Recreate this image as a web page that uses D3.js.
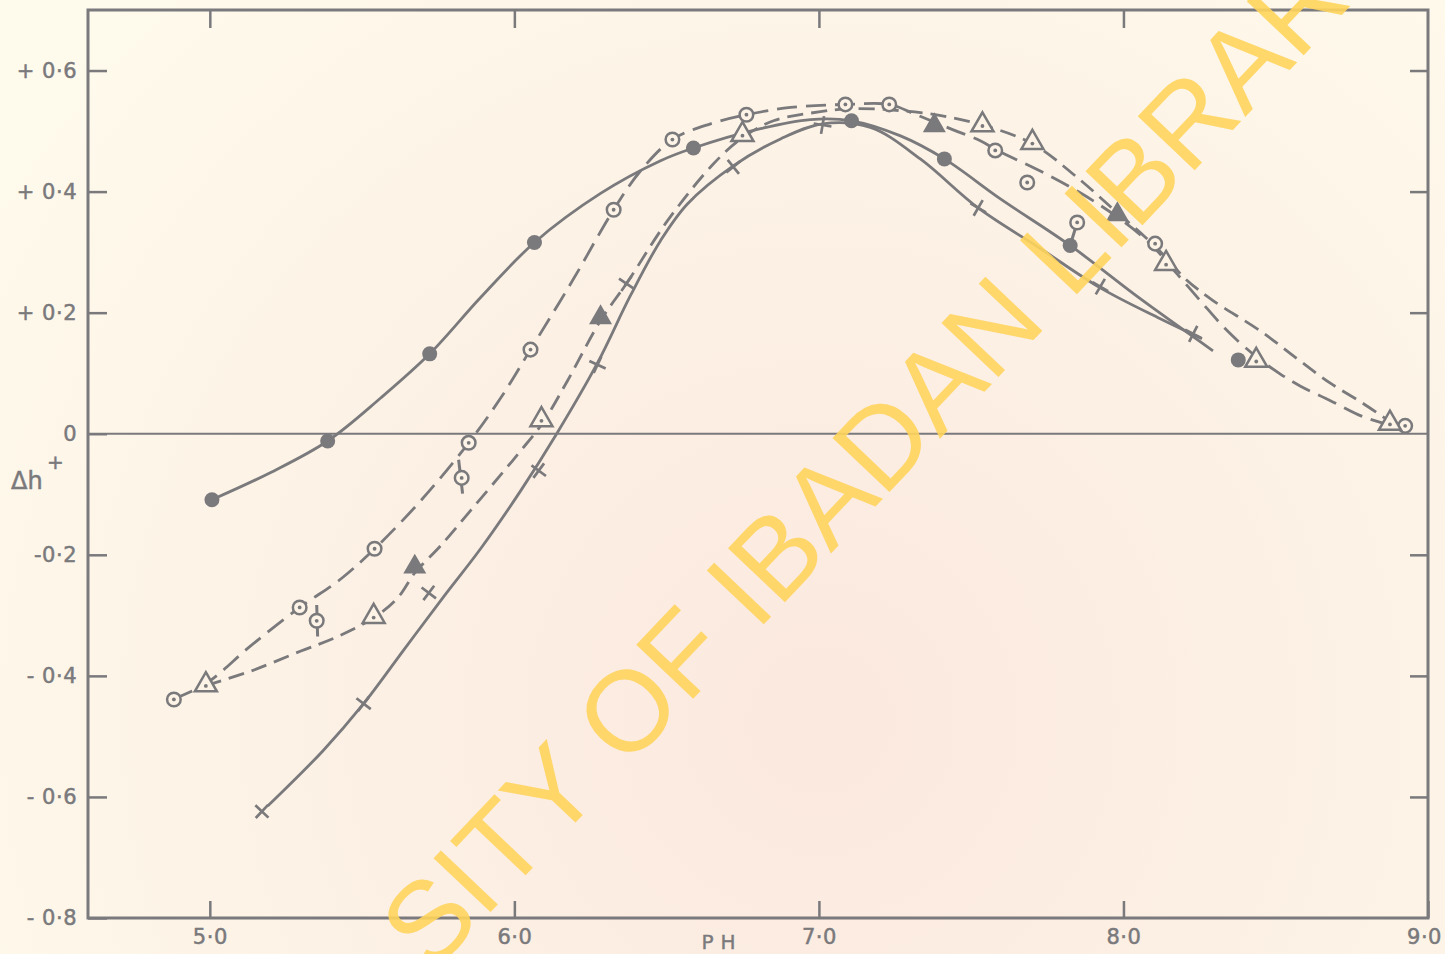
<!DOCTYPE html>
<html>
<head>
<meta charset="utf-8">
<script src="https://cdn.jsdelivr.net/npm/d3@7/dist/d3.min.js"></script>
<style>
body { margin: 0; background: #fdf6ea; }
</style>
</head>
<body>
<script>
// axis ticks and labels
var xTicks = [5, 6, 7, 8, 9];
var xTickLabels = ["5·0", "6·0", "7·0", "8·0", "9·0"];
var yTicks = [0.6, 0.4, 0.2, 0, -0.2, -0.4, -0.6, -0.8];
var yTickLabels = ["+ 0·6", "+ 0·4", "+ 0·2", "0", "-0·2", "- 0·4", "- 0·6", "- 0·8"];

// curves (pH, delta h+)
var curveDots = [[5.007,-0.109],[5.200,-0.064],[5.387,-0.012],[5.561,0.059],[5.722,0.132],[5.889,0.225],
    [6.066,0.316],[6.283,0.397],[6.480,0.451],[6.588,0.472],[6.808,0.504],[6.972,0.519],[7.107,0.517],
    [7.268,0.492],[7.412,0.454],[7.596,0.388],[7.825,0.311],[8.055,0.223],[8.294,0.137]];

var curveCrosses = [[5.190,-0.615],[5.371,-0.524],[5.505,-0.446],[5.637,-0.357],[5.768,-0.269],[5.889,-0.190],
    [6.021,-0.094],[6.139,0.000],[6.273,0.117],[6.381,0.228],[6.480,0.319],[6.569,0.380],[6.720,0.443],
    [6.874,0.487],[7.012,0.512],[7.169,0.506],[7.333,0.454],[7.523,0.373],[7.727,0.306],[7.924,0.241],
    [8.121,0.190],[8.258,0.157]];

var curveRings = [[4.882,-0.438],[4.987,-0.413],[5.135,-0.350],[5.295,-0.287],[5.430,-0.240],[5.541,-0.190],
    [5.692,-0.111],[5.850,-0.015],[5.955,0.059],[6.053,0.139],[6.191,0.253],[6.326,0.370],[6.414,0.434],
    [6.519,0.486],[6.644,0.512],[6.762,0.527],[6.907,0.539],[7.087,0.544],[7.231,0.544],[7.310,0.529],
    [7.441,0.502],[7.530,0.484],[7.586,0.468],[7.727,0.434],[7.858,0.398],[7.980,0.358],[8.088,0.314],
    [8.176,0.264],[8.252,0.220],[8.341,0.170],[8.439,0.126],[8.514,0.099],[8.580,0.079],[8.678,0.055],
    [8.787,0.028],[8.892,0.012]];

var curveTriangles = [[4.987,-0.416],[5.135,-0.392],[5.299,-0.359],[5.420,-0.335],[5.538,-0.304],[5.617,-0.271],
    [5.673,-0.230],[5.758,-0.185],[5.856,-0.127],[5.955,-0.068],[6.021,-0.028],[6.093,0.018],[6.175,0.088],
    [6.283,0.187],[6.372,0.251],[6.503,0.352],[6.654,0.446],[6.749,0.489],[6.851,0.517],[7.005,0.532],
    [7.103,0.537],[7.235,0.535],[7.382,0.527],[7.537,0.510],[7.701,0.479],[7.842,0.426],[7.980,0.365],
    [8.071,0.325],[8.144,0.289],[8.203,0.256],[8.294,0.220],[8.449,0.170],[8.570,0.124],[8.678,0.084],
    [8.787,0.050],[8.875,0.020]];

// plotted points
var dotPoints = [[5.007,-0.109],[5.387,-0.012],[5.722,0.132],[6.066,0.316],[6.588,0.472],[7.107,0.517],
    [7.412,0.454],[7.825,0.311],[8.377,0.122]];
var crossPoints = [[5.171,-0.624],[5.505,-0.446],[5.719,-0.263],[6.080,-0.061],[6.273,0.114],[6.368,0.248],
    [6.719,0.441],[7.012,0.510],[7.523,0.373],[7.924,0.243],[8.229,0.165]];
var ringPoints = [[4.882,-0.439],[5.295,-0.287],[5.351,-0.309],[5.541,-0.190],[5.827,-0.073],[5.850,-0.015],
    [6.053,0.139],[6.326,0.370],[6.519,0.486],[6.762,0.527],[7.087,0.544],[7.231,0.544],[7.579,0.468],
    [7.684,0.415],[7.848,0.349],[8.104,0.314],[8.925,0.013]];
var openTrianglePoints = [[4.987,-0.415],[5.538,-0.302],[6.089,0.023],[6.749,0.494],[7.537,0.510],
    [7.701,0.481],[8.140,0.281],[8.436,0.121],[8.875,0.017]];
var filledTrianglePoints = [[5.673,-0.220],[6.283,0.192],[7.379,0.509],[7.980,0.362]];
// short bars through some points [x1, y1, x2, y2]
var bars = [[5.351,-0.283,5.354,-0.335],[5.817,-0.043,5.830,-0.099],[7.848,0.349,7.825,0.311]];

var W = 1445, H = 954;
var ink = "#7a797c";
var paper = "#fdf3e6";
var font = "DejaVu Sans, Liberation Sans, sans-serif";

var svg = d3.select("body").append("svg")
    .attr("width", W)
    .attr("height", H);

var grad = svg.append("defs").append("radialGradient")
    .attr("id", "paper")
    .attr("gradientUnits", "userSpaceOnUse")
    .attr("cx", 820).attr("cy", 720).attr("r", 1000);
grad.append("stop").attr("offset", "0%").attr("stop-color", "#fbe8de");
grad.append("stop").attr("offset", "100%").attr("stop-color", "#fefaec");

svg.append("rect").attr("width", W).attr("height", H).attr("fill", "url(#paper)");

var x = d3.scaleLinear().domain([4.6, 9.0]).range([88, 1428]);
var y = d3.scaleLinear().domain([-0.8, 0.7]).range([918, 10]);

function styleAxis(g) {
    g.select(".domain").remove();
    g.selectAll("line").attr("stroke", ink).attr("stroke-width", 2.5);
    g.selectAll("text")
        .attr("fill", ink)
        .attr("stroke", ink)
        .attr("stroke-width", 0.5)
        .style("font-family", font)
        .style("font-size", "21px")
        .style("letter-spacing", "0.5px");
}

var xAxisGroup = svg.append("g")
    .attr("transform", "translate(0,918)")
    .call(d3.axisBottom(x).tickValues(xTicks)
        .tickFormat(function (d, i) { return xTickLabels[i]; })
        .tickSizeInner(-17).tickSizeOuter(0).tickPadding(11))
    .call(styleAxis);
// last label sits against the page edge
xAxisGroup.selectAll("text").filter(function (d) { return d === 9; }).attr("dx", -4);

svg.append("g")
    .attr("transform", "translate(0,10)")
    .call(d3.axisTop(x).tickValues(xTicks.slice(0, 4)).tickFormat("")
        .tickSizeInner(-18).tickSizeOuter(0))
    .call(styleAxis);

svg.append("g")
    .attr("transform", "translate(88,0)")
    .call(d3.axisLeft(y).tickValues(yTicks)
        .tickFormat(function (d, i) { return yTickLabels[i]; })
        .tickSizeInner(-19).tickSizeOuter(0).tickPadding(11))
    .call(styleAxis);

svg.append("g")
    .attr("transform", "translate(1428,0)")
    .call(d3.axisRight(y).tickValues(yTicks.filter(function (d) { return d !== 0 && d > -0.8; }))
        .tickFormat("").tickSizeInner(-18).tickSizeOuter(0))
    .call(styleAxis);

// frame and zero line
svg.append("rect")
    .attr("x", x(4.6)).attr("y", y(0.7))
    .attr("width", x(9.0) - x(4.6)).attr("height", y(-0.8) - y(0.7))
    .attr("fill", "none").attr("stroke", ink).attr("stroke-width", 3);

svg.append("line")
    .attr("x1", x(4.6)).attr("x2", x(9.0))
    .attr("y1", y(0)).attr("y2", y(0))
    .attr("stroke", ink).attr("stroke-width", 2);

// axis titles
svg.append("text")
    .attr("x", 11).attr("y", 489)
    .attr("fill", ink).attr("stroke", ink).attr("stroke-width", 0.5)
    .style("font-family", font).style("font-size", "24px")
    .text("Δh");
svg.append("text")
    .attr("x", 47).attr("y", 469)
    .attr("fill", ink).attr("stroke", ink).attr("stroke-width", 0.5)
    .style("font-family", font).style("font-size", "20px")
    .text("+");

svg.append("text")
    .attr("x", 722).attr("y", 949)
    .attr("text-anchor", "middle")
    .attr("fill", ink).attr("stroke", ink).attr("stroke-width", 0.4)
    .style("font-family", font).style("font-size", "20px")
    .style("letter-spacing", "7px")
    .text("PH");

// curves
var line = d3.line()
    .x(function (d) { return x(d[0]); })
    .y(function (d) { return y(d[1]); })
    .curve(d3.curveCatmullRom.alpha(0.5));

function drawCurve(data, dash) {
    svg.append("path")
        .datum(data)
        .attr("d", line)
        .attr("fill", "none")
        .attr("stroke", ink)
        .attr("stroke-width", 2.8)
        .attr("stroke-dasharray", dash);
}
drawCurve(curveDots, null);
drawCurve(curveCrosses, null);
drawCurve(curveRings, "20,9");
drawCurve(curveTriangles, "16,8");

svg.selectAll(".bar")
    .data(bars)
    .enter()
    .append("line")
    .attr("x1", function (d) { return x(d[0]); })
    .attr("y1", function (d) { return y(d[1]); })
    .attr("x2", function (d) { return x(d[2]); })
    .attr("y2", function (d) { return y(d[3]); })
    .attr("stroke", ink)
    .attr("stroke-width", 3);

// markers
svg.selectAll(".dot")
    .data(dotPoints)
    .enter()
    .append("circle")
    .attr("cx", function (d) { return x(d[0]); })
    .attr("cy", function (d) { return y(d[1]); })
    .attr("r", 7.5)
    .attr("fill", ink);

var rings = svg.selectAll(".ring")
    .data(ringPoints)
    .enter()
    .append("g")
    .attr("transform", function (d) { return "translate(" + x(d[0]) + "," + y(d[1]) + ")"; });
rings.append("circle").attr("r", 6.8).attr("fill", paper).attr("stroke", ink).attr("stroke-width", 2.5);
rings.append("circle").attr("r", 1.9).attr("fill", ink);

function triangle(s) {
    var h = s * Math.sqrt(3) / 2;
    return "M0," + (-2 * h / 3) + "L" + (s / 2) + "," + (h / 3) + "L" + (-s / 2) + "," + (h / 3) + "Z";
}

var openTri = svg.selectAll(".otri")
    .data(openTrianglePoints)
    .enter()
    .append("g")
    .attr("transform", function (d) { return "translate(" + x(d[0]) + "," + y(d[1]) + ")"; });
openTri.append("path").attr("d", triangle(22)).attr("fill", paper).attr("stroke", ink).attr("stroke-width", 2.5);
openTri.append("circle").attr("cy", 1).attr("r", 1.9).attr("fill", ink);

svg.selectAll(".ftri")
    .data(filledTrianglePoints)
    .enter()
    .append("path")
    .attr("transform", function (d) { return "translate(" + x(d[0]) + "," + y(d[1]) + ")"; })
    .attr("d", triangle(23))
    .attr("fill", ink);

svg.selectAll(".cross")
    .data(crossPoints)
    .enter()
    .append("path")
    .attr("transform", function (d, i) {
        var a = crossPoints[Math.max(i - 1, 0)], b = crossPoints[Math.min(i + 1, crossPoints.length - 1)];
        var ang = Math.atan2(y(b[1]) - y(a[1]), x(b[0]) - x(a[0])) * 180 / Math.PI;
        return "translate(" + x(d[0]) + "," + y(d[1]) + ")rotate(" + ang + ")";
    })
    .attr("d", "M-9,0L9,0M0,-9L0,9")
    .attr("stroke", ink)
    .attr("stroke-width", 2.7)
    .attr("fill", "none");

// library stamp across the sheet
svg.append("text")
    .attr("transform", "translate(431,975)rotate(-46.5)")
    .attr("fill", "#ffd45c")
    .attr("fill-opacity", 0.9)
    .style("font-family", "Liberation Sans, Arial, sans-serif")
    .style("font-size", "114px")
    .text("SITY OF IBADAN LIBRAR");
</script>
</body>
</html>
